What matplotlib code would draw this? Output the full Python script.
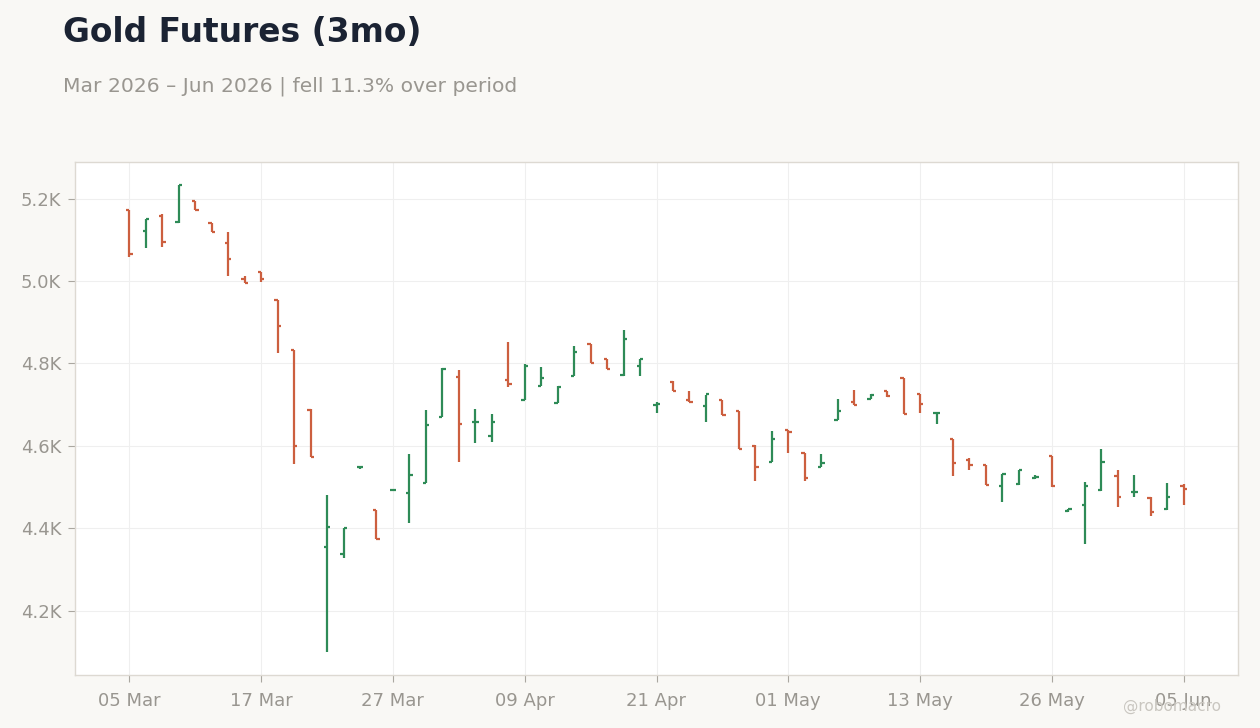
import pandas as pd
import matplotlib
matplotlib.use('Agg')
import matplotlib.pyplot as plt
from matplotlib.ticker import FuncFormatter

#%% Data: daily OHLC for gold futures
# trading days from 05 Mar to 05 Jun 2026 (Good Friday and Memorial Day closed)
dates = pd.bdate_range('2026-03-05', '2026-06-05')
dates = dates[~dates.isin(pd.to_datetime(['2026-04-03', '2026-05-25']))]

opens = [5171, 5122, 5157, 5142, 5193, 5140, 5091, 5004, 5021, 4953,
         4832, 4688, 4354, 4338, 4549, 4444, 4493, 4485, 4511, 4669,
         4766, 4657, 4625, 4761, 4712, 4746, 4705, 4770, 4847, 4812,
         4773, 4795, 4700, 4756, 4712, 4696, 4711, 4685, 4601, 4562,
         4638, 4582, 4550, 4664, 4706, 4715, 4732, 4764, 4726, 4679,
         4617, 4566, 4554, 4504, 4508, 4521, 4575, 4441, 4456, 4494,
         4526, 4489, 4474, 4448, 4504]
highs = [5172, 5150, 5163, 5232, 5194, 5140, 5119, 5012, 5021, 4953,
         4832, 4689, 4482, 4401, 4550, 4445, 4495, 4581, 4686, 4789,
         4785, 4690, 4678, 4853, 4799, 4792, 4745, 4843, 4847, 4812,
         4882, 4811, 4707, 4757, 4734, 4724, 4711, 4685, 4602, 4637,
         4639, 4583, 4581, 4715, 4736, 4726, 4732, 4764, 4727, 4680,
         4617, 4571, 4554, 4533, 4542, 4529, 4576, 4448, 4512, 4593,
         4542, 4530, 4475, 4511, 4508]
lows = [5058, 5079, 5082, 5141, 5171, 5118, 5011, 4995, 4998, 4825,
        4556, 4572, 4101, 4327, 4544, 4375, 4492, 4414, 4510, 4669,
        4560, 4606, 4609, 4742, 4712, 4746, 4704, 4770, 4801, 4787,
        4769, 4770, 4679, 4734, 4707, 4659, 4676, 4592, 4516, 4561,
        4584, 4514, 4550, 4663, 4699, 4715, 4719, 4678, 4681, 4653,
        4526, 4541, 4505, 4465, 4505, 4520, 4500, 4440, 4363, 4490,
        4451, 4475, 4429, 4445, 4456]
closes = [5066, 5150, 5094, 5232, 5171, 5118, 5054, 4996, 5004, 4892,
          4601, 4572, 4404, 4401, 4550, 4375, 4494, 4529, 4650, 4787,
          4652, 4659, 4659, 4751, 4795, 4764, 4744, 4827, 4802, 4787,
          4860, 4810, 4701, 4734, 4707, 4725, 4676, 4593, 4548, 4616,
          4633, 4521, 4558, 4684, 4700, 4723, 4720, 4678, 4701, 4680,
          4558, 4554, 4506, 4533, 4542, 4524, 4502, 4448, 4502, 4562,
          4477, 4489, 4439, 4477, 4495]

#%% Style
bg = '#f9f8f5'
up_col = '#2e8b57'
down_col = '#cc5f3f'
txt_gray = '#999690'

fig = plt.figure(figsize=(12.6, 7.28), dpi=100, facecolor=bg)
ax = fig.add_axes([75/1260, 53/728, 1163/1260, 513/728])
ax.set_facecolor('white')

#%% OHLC bars
w = 0.2
for i in range(len(dates)):
    col = up_col if closes[i] >= opens[i] else down_col
    ax.vlines(i, lows[i], highs[i], color=col, linewidth=1.6)
    ax.hlines(opens[i], i - w, i, color=col, linewidth=1.6)
    ax.hlines(closes[i], i, i + w, color=col, linewidth=1.6)

ax.set_xlim(-3.3, 67.3)
ax.margins(y=0.05)

tick_idx = list(range(0, len(dates), 8))
ax.set_xticks(tick_idx)
ax.set_xticklabels([dates[i].strftime('%d %b') for i in tick_idx])
ax.set_yticks([4200, 4400, 4600, 4800, 5000, 5200])
ax.yaxis.set_major_formatter(FuncFormatter(lambda v, p: f'{v/1000:.1f}K'))

ax.grid(color='#efefef', linewidth=0.8)
ax.set_axisbelow(True)
for s in ax.spines.values():
    s.set_color('#ddd9d2')
    s.set_linewidth(1)
ax.tick_params(axis='both', colors='#aaa7a0', labelcolor=txt_gray,
               labelsize=13, length=5, width=0.8)
ax.tick_params(axis='x', pad=7)
ax.tick_params(axis='y', pad=5)

#%% Titles and watermark
fig.text(63/1260, 1 - 42/728, 'Gold Futures (3mo)', fontsize=23.7,
         fontweight='bold', color='#1b2333', va='baseline')
fig.text(63/1260, 1 - 92/728, 'Mar 2026 – Jun 2026 | fell 11.3% over period',
         fontsize=14.6, color=txt_gray, va='baseline')
fig.text(1221/1260, 1 - 711/728, '@robomacro', fontsize=11,
         color='#c9c6c0', ha='right', va='baseline')

fig.savefig('out.png', dpi=100, facecolor=bg)
